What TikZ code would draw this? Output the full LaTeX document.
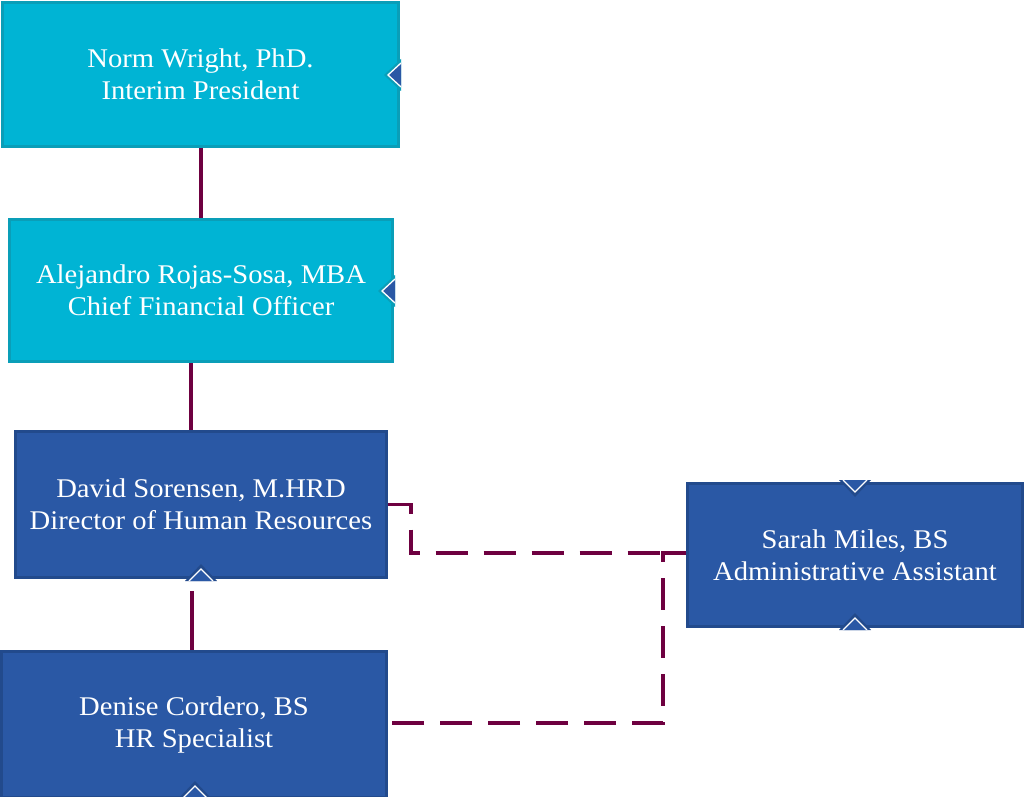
\documentclass[tikz,border=0pt]{standalone}
\usepackage{fontspec}
\setmainfont[FakeStretch=1.06]{Liberation Serif}
\usetikzlibrary{calc}
\definecolor{cyanfill}{RGB}{0,180,212}
\definecolor{cyanline}{RGB}{10,158,184}
\definecolor{bluefill}{RGB}{42,88,165}
\definecolor{blueline}{RGB}{34,74,140}
\definecolor{linkcol}{RGB}{110,0,64}
\tikzset{
  box/.style={rectangle, line width=3pt, text=white, align=center, inner sep=0pt,
    font=\fontsize{27}{32}\selectfont},
  cyanbox/.style={box, fill=cyanfill, draw=cyanline},
  bluebox/.style={box, fill=bluefill, draw=blueline},
  link/.style={draw=linkcol, line width=3.5pt},
  dlink/.style={draw=linkcol, line width=3.5pt, dash pattern=on 32pt off 16pt},
  notch/.style={draw=white, line width=1.3pt, line join=miter},
}
\begin{document}
\begin{tikzpicture}[x=1pt,y=-1pt]
\useasboundingbox (0,0) rectangle (1025,797);
% boxes
\node[cyanbox, minimum width=396pt, minimum height=144pt] (norm) at (200.5,74.5)
  {Norm Wright, PhD.\\Interim President};
\node[cyanbox, minimum width=383pt, minimum height=142pt] (alej) at (201,290.5)
  {Alejandro Rojas-Sosa, MBA\\Chief Financial Officer};
\node[bluebox, minimum width=371pt, minimum height=146pt] (david) at (201,504.5)
  {David Sorensen, M.HRD\\Director of Human Resources};
\node[bluebox, minimum width=385pt, minimum height=146pt] (denise) at (194,724.5)
  {Denise Cordero, BS\\HR Specialist};
\node[bluebox, minimum width=335pt, minimum height=143pt] (sarah) at (855,555)
  {Sarah Miles, BS\\Administrative Assistant};
% notches on cyan boxes
\fill[cyanline] (401,59) -- (384,75) -- (401,91) -- cycle;
\fill[bluefill] (401,63) -- (388,75) -- (401,87) -- cycle;
\draw[notch] (401,63) -- (388,75) -- (401,87);
\fill[cyanline] (395,275) -- (378,291) -- (395,307) -- cycle;
\fill[bluefill] (395,279) -- (382,291) -- (395,303) -- cycle;
\draw[notch] (395,279) -- (382,291) -- (395,303);
% notches on blue boxes
\fill[blueline] (185,581) -- (201,564) -- (217,581) -- cycle;
\fill[bluefill] (189,581) -- (201,569) -- (213,581) -- cycle;
\draw[notch] (189,581) -- (201,569) -- (213,581);
\fill[blueline] (179,798) -- (195,781) -- (211,798) -- cycle;
\fill[bluefill] (183,798) -- (195,786) -- (207,798) -- cycle;
\draw[notch] (183,798) -- (195,786) -- (207,798);
\fill[blueline] (839,480) -- (855,497) -- (871,480) -- cycle;
\fill[bluefill] (843,480) -- (855,492) -- (867,480) -- cycle;
\draw[notch] (843,480) -- (855,492) -- (867,480);
\fill[blueline] (839,630) -- (855,613) -- (871,630) -- cycle;
\fill[bluefill] (843,630) -- (855,618) -- (867,630) -- cycle;
\draw[notch] (843,630) -- (855,618) -- (867,630);
% connectors
\draw[link] (alej.north |- norm.south) -- (alej.north);
\draw[link] ([xshift=-10pt]alej.south) -- ([xshift=-10pt]alej.south |- david.north);
\draw[link] ([xshift=-9pt,yshift=-12pt]david.south) -- ([xshift=-9pt]david.south |- denise.north);
\draw[dlink] (david.east) -- ++(23,0) |- ([yshift=2pt]sarah.west);
\draw[dlink] ([yshift=2pt]sarah.west) -- ++(-23,0) |- ([yshift=1.5pt]denise.east);
\end{tikzpicture}
\end{document}
